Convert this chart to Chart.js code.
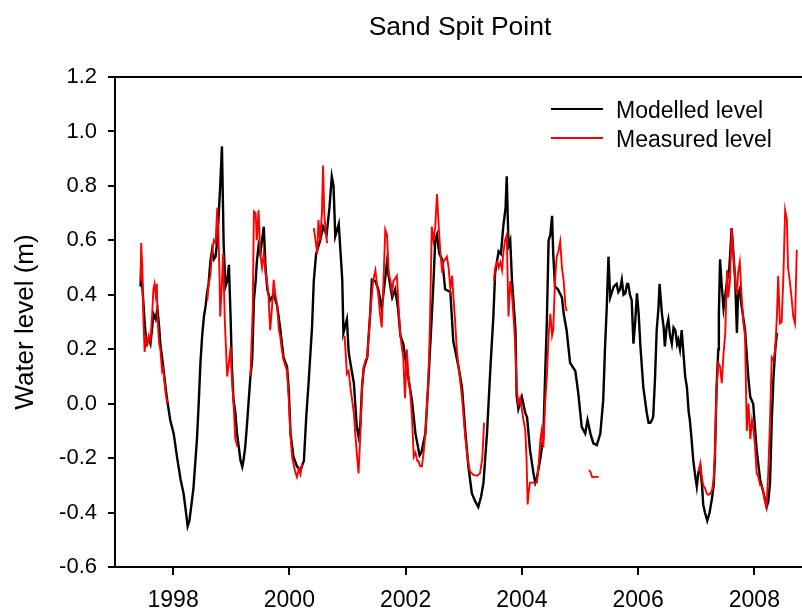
<!DOCTYPE html>
<html>
<head>
<meta charset="utf-8">
<title>Sand Spit Point</title>
<script src="https://cdn.jsdelivr.net/npm/chart.js@4/dist/chart.umd.min.js"></script>
<style>
  html, body { margin: 0; padding: 0; background: #fff; }
  #wrap { width: 802px; height: 610px; }
</style>
</head>
<body>
<div id="wrap"><canvas id="levelChart" width="802" height="610"></canvas></div>
<script>
// Sand Spit Point - modelled vs measured water level (m), decimal years

const xTickValues = [1998, 2000, 2002, 2004, 2006, 2008];
const yTickValues = [-0.6, -0.4, -0.2, 0.0, 0.2, 0.4, 0.6, 0.8, 1.0, 1.2];

const modelledYear = [
    1997.44, 1997.45, 1997.47, 1997.51, 1997.54, 1997.58, 1997.61, 1997.64, 1997.66, 1997.70,
    1997.73, 1997.76, 1997.78, 1997.81, 1997.83, 1997.87, 1997.90, 1997.95, 1998.01, 1998.07,
    1998.13, 1998.18, 1998.21, 1998.25, 1998.28, 1998.31, 1998.35, 1998.41, 1998.44, 1998.47,
    1998.50, 1998.53, 1998.56, 1998.58, 1998.61, 1998.64, 1998.67, 1998.70, 1998.73, 1998.76,
    1998.78, 1998.81, 1998.84, 1998.87, 1998.90, 1998.93, 1998.96, 1998.99, 1999.01, 1999.04,
    1999.07, 1999.10, 1999.13, 1999.16, 1999.19, 1999.21, 1999.24, 1999.27, 1999.30, 1999.33,
    1999.36, 1999.39, 1999.42, 1999.44, 1999.47, 1999.50, 1999.53, 1999.56, 1999.59, 1999.62,
    1999.67, 1999.73, 1999.79, 1999.84, 1999.90, 1999.96, 1999.99, 2000.02, 2000.07, 2000.13,
    2000.19, 2000.25, 2000.29, 2000.33, 2000.39, 2000.42, 2000.46, 2000.53, 2000.58, 2000.64,
    2000.69, 2000.73, 2000.76, 2000.79, 2000.85, 2000.91, 2000.93, 2000.99, 2001.02, 2001.05,
    2001.11, 2001.16, 2001.19, 2001.22, 2001.25, 2001.28, 2001.34, 2001.39, 2001.42, 2001.48,
    2001.53, 2001.59, 2001.68, 2001.70, 2001.77, 2001.82, 2001.87, 2001.91, 2001.96, 2002.02,
    2002.08, 2002.11, 2002.17, 2002.24, 2002.27, 2002.30, 2002.34, 2002.39, 2002.45, 2002.48,
    2002.51, 2002.54, 2002.58, 2002.63, 2002.68, 2002.77, 2002.82, 2002.91, 2002.97, 2003.03,
    2003.08, 2003.14, 2003.20, 2003.25, 2003.30, 2003.34, 2003.40, 2003.46, 2003.51, 2003.54,
    2003.60, 2003.64, 2003.68, 2003.72, 2003.74, 2003.77, 2003.80, 2003.83, 2003.89, 2003.91,
    2003.94, 2004.00, 2004.06, 2004.09, 2004.14, 2004.20, 2004.23, 2004.26, 2004.32, 2004.37,
    2004.40, 2004.43, 2004.46, 2004.49, 2004.52, 2004.54, 2004.57, 2004.62, 2004.69, 2004.72,
    2004.77, 2004.83, 2004.92, 2004.97, 2005.03, 2005.09, 2005.13, 2005.18, 2005.23, 2005.29,
    2005.35, 2005.40, 2005.43, 2005.46, 2005.49, 2005.52, 2005.58, 2005.63, 2005.66, 2005.69,
    2005.72, 2005.75, 2005.78, 2005.81, 2005.83, 2005.86, 2005.89, 2005.92, 2005.95, 2005.98,
    2006.01, 2006.04, 2006.09, 2006.15, 2006.18, 2006.21, 2006.24, 2006.26, 2006.29, 2006.32,
    2006.35, 2006.37, 2006.41, 2006.44, 2006.46, 2006.49, 2006.52, 2006.55, 2006.58, 2006.61,
    2006.64, 2006.67, 2006.69, 2006.72, 2006.75, 2006.78, 2006.81, 2006.84, 2006.87, 2006.89,
    2006.92, 2006.95, 2006.98, 2007.01, 2007.04, 2007.07, 2007.10, 2007.12, 2007.15, 2007.19,
    2007.23, 2007.27, 2007.30, 2007.32, 2007.35, 2007.38, 2007.39, 2007.41, 2007.44, 2007.47,
    2007.50, 2007.53, 2007.57, 2007.61, 2007.64, 2007.67, 2007.70, 2007.72, 2007.75, 2007.78,
    2007.84, 2007.90, 2007.93, 2007.98, 2008.04, 2008.10, 2008.16, 2008.21, 2008.24, 2008.27,
    2008.30, 2008.33, 2008.36, 2008.39
];
const modelledLevel = [
    0.43, 0.50, 0.43, 0.30, 0.22, 0.24, 0.22, 0.28, 0.33, 0.31,
    0.35, 0.28, 0.22, 0.17, 0.135, 0.06, 0.01, -0.06, -0.11, -0.20,
    -0.28, -0.33, -0.38, -0.45, -0.43, -0.38, -0.31, -0.13, 0.00, 0.15,
    0.25, 0.32, 0.36, 0.40, 0.44, 0.52, 0.565, 0.53, 0.54, 0.60,
    0.675, 0.80, 0.945, 0.58, 0.43, 0.45, 0.51, 0.31, 0.14, 0.01,
    -0.03, -0.11, -0.16, -0.21, -0.232, -0.21, -0.16, -0.08, 0.01, 0.10,
    0.16, 0.38, 0.45, 0.52, 0.58, 0.55, 0.60, 0.65, 0.50, 0.42,
    0.38, 0.40, 0.36, 0.28, 0.17, 0.136, 0.05, -0.11, -0.195, -0.23,
    -0.245, -0.21, -0.05, 0.075, 0.28, 0.45, 0.55, 0.60, 0.65, 0.62,
    0.72, 0.835, 0.80, 0.615, 0.66, 0.455, 0.26, 0.31, 0.19, 0.15,
    0.075, -0.085, -0.12, -0.08, 0.06, 0.13, 0.17, 0.33, 0.455, 0.45,
    0.42, 0.35, 0.52, 0.48, 0.39, 0.42, 0.35, 0.25, 0.22, 0.13,
    0.05, 0.01, -0.11, -0.19, -0.18, -0.15, -0.11, 0.075, 0.32, 0.45,
    0.60, 0.62, 0.55, 0.53, 0.42, 0.41, 0.23, 0.136, 0.06, -0.11,
    -0.23, -0.33, -0.36, -0.38, -0.34, -0.29, -0.11, 0.136, 0.32, 0.48,
    0.56, 0.55, 0.65, 0.72, 0.835, 0.58, 0.60, 0.455, 0.27, 0.03,
    -0.02, 0.025, -0.035, -0.05, -0.17, -0.256, -0.29, -0.27, -0.20, -0.12,
    0.10, 0.30, 0.60, 0.62, 0.69, 0.55, 0.43, 0.42, 0.39, 0.33,
    0.27, 0.15, 0.12, 0.04, -0.085, -0.11, -0.06, -0.11, -0.146, -0.152,
    -0.11, 0.013, 0.20, 0.35, 0.54, 0.39, 0.43, 0.44, 0.41, 0.42,
    0.455, 0.40, 0.405, 0.44, 0.44, 0.40, 0.38, 0.22, 0.30, 0.405,
    0.33, 0.21, 0.06, -0.035, -0.07, -0.07, -0.06, -0.047, 0.087, 0.27,
    0.35, 0.44, 0.33, 0.28, 0.21, 0.28, 0.31, 0.25, 0.22, 0.28,
    0.27, 0.22, 0.235, 0.20, 0.27, 0.185, 0.10, 0.06, -0.03, -0.06,
    -0.13, -0.21, -0.26, -0.305, -0.25, -0.23, -0.30, -0.37, -0.40, -0.43,
    -0.40, -0.35, -0.30, -0.21, 0.06, 0.20, 0.33, 0.53, 0.43, 0.35,
    0.40, 0.45, 0.50, 0.645, 0.55, 0.455, 0.26, 0.40, 0.42, 0.36,
    0.27, 0.087, 0.025, 0.00, -0.17, -0.28, -0.33, -0.38, -0.36, -0.29,
    -0.06, 0.10, 0.20, 0.26
];

// gauge record, null marks a gap in the record
const measuredYear = [
    1997.44, 1997.45, 1997.47, 1997.49, 1997.51, 1997.53, 1997.56, 1997.58, 1997.61, 1997.64,
    1997.66, 1997.68, 1997.70, 1997.72, 1997.73, 1997.76, 1997.78, 1997.81, 1997.83, 1997.87,
    1997.90, 1998.20,
    1998.59, 1998.61, 1998.64, 1998.67, 1998.70, 1998.73, 1998.76, 1998.78, 1998.80, 1998.81,
    1998.83, 1998.86, 1998.89, 1998.93, 1998.96, 1998.99, 1999.01, 1999.04, 1999.07, 1999.11,
    1999.22,
    1999.33, 1999.37, 1999.39, 1999.42, 1999.44, 1999.47, 1999.50, 1999.53, 1999.56, 1999.59,
    1999.62, 1999.64, 1999.67, 1999.70, 1999.73, 1999.76, 1999.79, 1999.82, 1999.84, 1999.87,
    1999.90, 1999.96, 1999.99, 2000.02, 2000.05, 2000.07, 2000.10, 2000.13, 2000.16, 2000.19,
    2000.22, 2000.32,
    2000.42, 2000.45, 2000.48, 2000.50, 2000.53, 2000.56, 2000.58, 2000.60, 2000.63, 2000.65,
    2000.80,
    2000.95, 2000.99, 2001.02, 2001.05, 2001.11, 2001.13, 2001.16, 2001.19, 2001.22, 2001.25,
    2001.28, 2001.31, 2001.34, 2001.39, 2001.44, 2001.48, 2001.53, 2001.56, 2001.59, 2001.62,
    2001.65, 2001.68, 2001.71, 2001.74, 2001.77, 2001.79, 2001.85, 2001.88, 2001.91, 2001.94,
    2001.96, 2001.99, 2002.02, 2002.05, 2002.08, 2002.11, 2002.14, 2002.17, 2002.20, 2002.22,
    2002.25, 2002.28, 2002.31, 2002.34, 2002.39, 2002.42, 2002.45, 2002.48, 2002.51, 2002.54,
    2002.57, 2002.60, 2002.63, 2002.65, 2002.71, 2002.74, 2002.77, 2002.80, 2002.82, 2002.85,
    2002.88, 2002.91, 2002.97, 2003.03, 2003.08, 2003.11, 2003.17, 2003.23, 2003.28, 2003.32,
    2003.35, 2003.44,
    2003.52, 2003.54, 2003.58, 2003.60, 2003.63, 2003.66, 2003.68, 2003.71, 2003.74, 2003.77,
    2003.80, 2003.83, 2003.86, 2003.89, 2003.91, 2003.94, 2003.97, 2004.00, 2004.02, 2004.06,
    2004.08, 2004.10, 2004.12, 2004.14, 2004.20, 2004.26, 2004.29, 2004.32, 2004.34, 2004.37,
    2004.40, 2004.43, 2004.46, 2004.49, 2004.52, 2004.54, 2004.57, 2004.60, 2004.63, 2004.66,
    2004.69, 2004.72, 2004.75, 2004.77, 2004.95,
    2005.15, 2005.18, 2005.21, 2005.24, 2005.28, 2005.32, 2006.00,
    2007.04, 2007.07, 2007.09, 2007.12, 2007.15, 2007.18, 2007.21, 2007.24, 2007.27, 2007.30,
    2007.32, 2007.35, 2007.38, 2007.41, 2007.44, 2007.47, 2007.50, 2007.53, 2007.55, 2007.58,
    2007.61, 2007.64, 2007.67, 2007.70, 2007.72, 2007.75, 2007.78, 2007.81, 2007.84, 2007.87,
    2007.90, 2007.93, 2007.96, 2007.98, 2008.01, 2008.04, 2008.07, 2008.10, 2008.13, 2008.16,
    2008.18, 2008.21, 2008.24, 2008.27, 2008.30, 2008.33, 2008.36, 2008.39, 2008.41, 2008.44,
    2008.47, 2008.50, 2008.53, 2008.56, 2008.58, 2008.61, 2008.64, 2008.67, 2008.70, 2008.73
];
const measuredLevel = [
    0.45, 0.59, 0.50, 0.30, 0.19, 0.24, 0.22, 0.25, 0.23, 0.33,
    0.42, 0.44, 0.40, 0.44, 0.32, 0.22, 0.20, 0.12, 0.13, 0.04,
    0.00, null,
    0.38, 0.44, 0.47, 0.55, 0.60, 0.59, 0.72, 0.62, 0.45, 0.32,
    0.40, 0.55, 0.30, 0.10, 0.15, 0.21, 0.10, 0.00, -0.13, -0.16,
    null,
    0.10, 0.35, 0.706, 0.70, 0.60, 0.71, 0.55, 0.50, 0.55, 0.48,
    0.44, 0.40, 0.27, 0.35, 0.455, 0.40, 0.36, 0.27, 0.25, 0.20,
    0.16, 0.12, 0.02, -0.12, -0.20, -0.22, -0.25, -0.27, -0.24, -0.26,
    -0.22, null,
    0.645, 0.60, 0.55, 0.675, 0.60, 0.70, 0.875, 0.70, 0.62, 0.59,
    null,
    0.25, 0.11, 0.12, 0.06, -0.035, -0.10, -0.18, -0.256, -0.12, 0.06,
    0.136, 0.16, 0.17, 0.33, 0.45, 0.49, 0.40, 0.33, 0.28, 0.45,
    0.64, 0.62, 0.48, 0.45, 0.41, 0.45, 0.47, 0.35, 0.25, 0.20,
    0.17, 0.02, 0.20, 0.10, 0.04, -0.05, -0.195, -0.18, -0.21, -0.21,
    -0.23, -0.23, -0.18, -0.11, 0.075, 0.30, 0.65, 0.60, 0.65, 0.77,
    0.65, 0.55, 0.48, 0.52, 0.54, 0.50, 0.42, 0.47, 0.40, 0.31,
    0.20, 0.136, 0.025, -0.13, -0.22, -0.25, -0.262, -0.265, -0.256, -0.20,
    -0.07, null,
    0.45, 0.50, 0.52, 0.50, 0.52, 0.49, 0.55, 0.60, 0.62, 0.32,
    0.45, 0.40, 0.31, 0.20, 0.06, 0.00, 0.02, -0.02, -0.05, -0.10,
    -0.20, -0.37, -0.32, -0.29, -0.29, -0.29, -0.22, -0.13, -0.10, -0.16,
    0.00, 0.10, 0.25, 0.33, 0.25, 0.27, 0.45, 0.54, 0.56, 0.596,
    0.50, 0.45, 0.36, 0.34, null,
    -0.244, -0.25, -0.27, -0.27, -0.268, -0.27, null,
    -0.25, -0.22, -0.26, -0.30, -0.31, -0.33, -0.335, -0.33, -0.32, -0.28,
    -0.20, 0.06, 0.15, 0.136, 0.075, 0.185, 0.26, 0.49, 0.39, 0.45,
    0.645, 0.55, 0.455, 0.40, 0.48, 0.52, 0.40, 0.30, 0.25, -0.10,
    0.00, -0.13, -0.06, -0.085, -0.15, -0.256, -0.27, -0.30, -0.30, -0.33,
    -0.355, -0.38, -0.25, -0.06, 0.17, 0.16, 0.20, 0.33, 0.47, 0.295,
    0.30, 0.47, 0.71, 0.675, 0.50, 0.45, 0.39, 0.32, 0.295, 0.565
];

const FONT = "'Liberation Sans', Arial, sans-serif";

const toPoints = (xs, ys) => xs.map((x, i) => ({ x: x, y: ys[i] }));

// heading and the in-plot key, drawn straight on the canvas
const decorPlugin = {
    id: 'decor',
    afterDraw(chart) {
        const { ctx, chartArea } = chart;
        ctx.save();

        // top frame line
        ctx.strokeStyle = '#000';
        ctx.lineWidth = 2;
        ctx.beginPath();
        ctx.moveTo(chartArea.left - 1, chartArea.top);
        ctx.lineTo(chartArea.right, chartArea.top);
        ctx.stroke();

        ctx.fillStyle = '#000';
        ctx.textAlign = 'center';
        ctx.textBaseline = 'alphabetic';
        ctx.font = '26.5px ' + FONT;
        ctx.fillText('Sand Spit Point', 460, 35);

        const keys = [
            { label: 'Modelled level', color: '#000000', width: 2 },
            { label: 'Measured level', color: '#ff0000', width: 2 }
        ];
        ctx.font = '23px ' + FONT;
        ctx.textAlign = 'left';
        keys.forEach((k, i) => {
            const base = 117.5 + i * 29;
            ctx.strokeStyle = k.color;
            ctx.lineWidth = k.width;
            ctx.beginPath();
            ctx.moveTo(551, base - 8.5);
            ctx.lineTo(603, base - 8.5);
            ctx.stroke();
            ctx.fillText(k.label, 616, base);
        });
        ctx.restore();
    }
};

new Chart(document.getElementById('levelChart'), {
    type: 'line',
    data: {
        datasets: [
            {
                label: 'Measured level',
                data: toPoints(measuredYear, measuredLevel),
                borderColor: '#ff0000',
                borderWidth: 1.9,
                pointRadius: 0,
                tension: 0,
                spanGaps: false,
                order: 0
            },
            {
                label: 'Modelled level',
                data: toPoints(modelledYear, modelledLevel),
                borderColor: '#000000',
                borderWidth: 2.4,
                pointRadius: 0,
                tension: 0,
                order: 1
            }
        ]
    },
    options: {
        responsive: false,
        animation: false,
        layout: { padding: { top: 77, right: 0, bottom: 0, left: 0 } },
        plugins: {
            legend: { display: false },
            title: { display: false },
            tooltip: { enabled: false }
        },
        scales: {
            x: {
                type: 'linear',
                position: 'bottom',
                min: 1997.0,
                max: 2008.82,
                afterBuildTicks: (scale) => {
                    scale.ticks = xTickValues.map(v => ({ value: v }));
                },
                afterFit: (scale) => { scale.height = 43; },
                ticks: {
                    color: '#000',
                    font: { family: FONT, size: 23 },
                    padding: 12,
                    maxRotation: 0,
                    callback: (v) => String(v)
                },
                grid: {
                    drawOnChartArea: false,
                    drawTicks: true,
                    tickLength: 8,
                    color: '#000',
                    lineWidth: 2
                },
                border: { display: true, color: '#000', width: 2 }
            },
            y: {
                type: 'linear',
                min: -0.6,
                max: 1.2,
                afterBuildTicks: (scale) => {
                    scale.ticks = yTickValues.map(v => ({ value: v }));
                },
                afterFit: (scale) => { scale.width = 115; },
                ticks: {
                    color: '#000',
                    font: { family: FONT, size: 22 },
                    padding: 11,
                    callback: (v) => v.toFixed(1)
                },
                grid: {
                    drawOnChartArea: false,
                    drawTicks: true,
                    tickLength: 7,
                    color: '#000',
                    lineWidth: 2
                },
                border: { display: true, color: '#000', width: 2 },
                title: {
                    display: true,
                    text: 'Water level (m)',
                    color: '#000',
                    font: { family: FONT, size: 26 },
                    padding: { top: 10, bottom: 0 }
                }
            }
        }
    },
    plugins: [decorPlugin]
});
</script>
</body>
</html>
